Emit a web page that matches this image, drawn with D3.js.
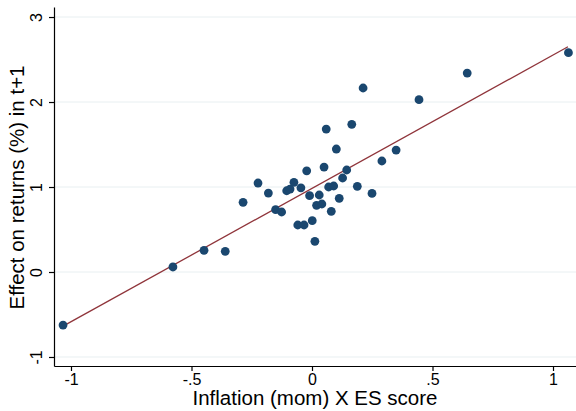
<!DOCTYPE html>
<html>
<head>
<meta charset="utf-8">
<script src="https://cdn.jsdelivr.net/npm/d3@7"></script>
<style>
    body { margin: 0; background: #fff; }
    #chart { width: 576px; height: 411px; }
    text { font-family: "Liberation Sans", Arial, Helvetica, sans-serif; fill: #000; }
</style>
</head>
<body>
<div id="chart"></div>
<script>

// data
let inflationEs = [-1.033, -0.577, -0.448, -0.360, -0.286, -0.224, -0.181, -0.151, -0.126, -0.105,
    -0.091, -0.075, -0.046, -0.022, -0.059, -0.033, 0.001, 0.012, -0.010, 0.019,
    0.041, 0.030, 0.050, 0.059, 0.069, 0.090, 0.080, 0.113, 0.101, 0.127,
    0.144, 0.165, 0.188, 0.249, 0.290, 0.349, 0.444, 0.644, 1.064, 0.212];
let effectReturns = [-0.624, 0.059, 0.255, 0.243, 0.820, 1.047, 0.929, 0.733, 0.706, 0.956,
    0.976, 1.055, 0.990, 1.190, 0.553, 0.553, 0.604, 0.361, 0.898, 0.785,
    0.800, 0.906, 1.235, 1.682, 1.000, 1.012, 0.714, 0.867, 1.447, 1.106,
    1.200, 1.737, 1.008, 0.925, 1.306, 1.435, 2.027, 2.341, 2.580, 2.165];

// fitted line (from the picture)
let fitX = [-1.033, 1.062];
let fitIntercept = 0.984;
let fitSlope = 1.569;

let xTicks = [-1, -0.5, 0, 0.5, 1];
let yTicks = [-1, 0, 1, 2, 3];

let xTitle = "Inflation (mom) X ES score";
let yTitle = "Effect on returns (%) in t+1";

let points = inflationEs.map((d, i) => ({x: d, y: effectReturns[i]}));

let plot = {left: 54, right: 576, top: 7, bottom: 366};

let svg = d3.select("#chart").append("svg")
    .attr("width", 576)
    .attr("height", 411);

// scales
let x = d3.scaleLinear()
    .domain([-1.0705, 1.0954])
    .range([plot.left, plot.right]);

let y = d3.scaleLinear()
    .domain([-1.106, 3.118])
    .range([plot.bottom, plot.top]);

let fmt = d => d === 0 ? "0" : String(d).replace("0.", ".");

// gridlines
svg.append("g")
    .selectAll("line")
    .data(yTicks)
    .enter()
    .append("line")
    .attr("x1", plot.left)
    .attr("x2", plot.right)
    .attr("y1", d => y(d))
    .attr("y2", d => y(d))
    .attr("stroke", "#e8eff1")
    .attr("stroke-width", 1);

// fit line
svg.append("line")
    .attr("x1", x(fitX[0]))
    .attr("y1", y(fitIntercept + fitSlope * fitX[0]))
    .attr("x2", x(fitX[1]))
    .attr("y2", y(fitIntercept + fitSlope * fitX[1]))
    .attr("stroke", "#90353b")
    .attr("stroke-width", 1.3);

// dots
svg.append("g")
    .selectAll("circle")
    .data(points)
    .enter()
    .append("circle")
    .attr("cx", d => x(d.x))
    .attr("cy", d => y(d.y))
    .attr("r", 4.4)
    .attr("fill", "#1a476f");

// axes
let xAxis = d3.axisBottom(x)
    .tickValues(xTicks)
    .tickFormat(fmt)
    .tickSize(5)
    .tickSizeOuter(0);

let yAxis = d3.axisLeft(y)
    .tickValues(yTicks)
    .tickFormat(fmt)
    .tickSize(5)
    .tickSizeOuter(0);

let gx = svg.append("g")
    .attr("class", "x-axis axis")
    .attr("transform", `translate(0, ${plot.bottom})`)
    .call(xAxis);

gx.selectAll("text")
    .attr("font-size", 16)
    .attr("y", 8)
    .attr("font-family", "Liberation Sans, Arial, sans-serif");

let gy = svg.append("g")
    .attr("class", "y-axis axis")
    .attr("transform", `translate(${plot.left}, 0)`)
    .call(yAxis);

gy.selectAll("text")
    .attr("font-size", 16)
    .attr("font-family", "Liberation Sans, Arial, sans-serif")
    .attr("x", 0)
    .attr("dy", 0)
    .attr("text-anchor", "middle")
    .attr("transform", "translate(-12, 0) rotate(-90)");

svg.selectAll(".axis path, .axis line")
    .attr("stroke", "#000")
    .attr("stroke-width", 1.2);

// titles
svg.append("text")
    .attr("x", (plot.left + plot.right) / 2)
    .attr("y", 405)
    .attr("text-anchor", "middle")
    .attr("font-size", 20.5)
    .text(xTitle);

svg.append("text")
    .attr("transform", `translate(24, ${(plot.top + plot.bottom) / 2 + 1}) rotate(-90)`)
    .attr("text-anchor", "middle")
    .attr("font-size", 20.5)
    .text(yTitle);

</script>
</body>
</html>
